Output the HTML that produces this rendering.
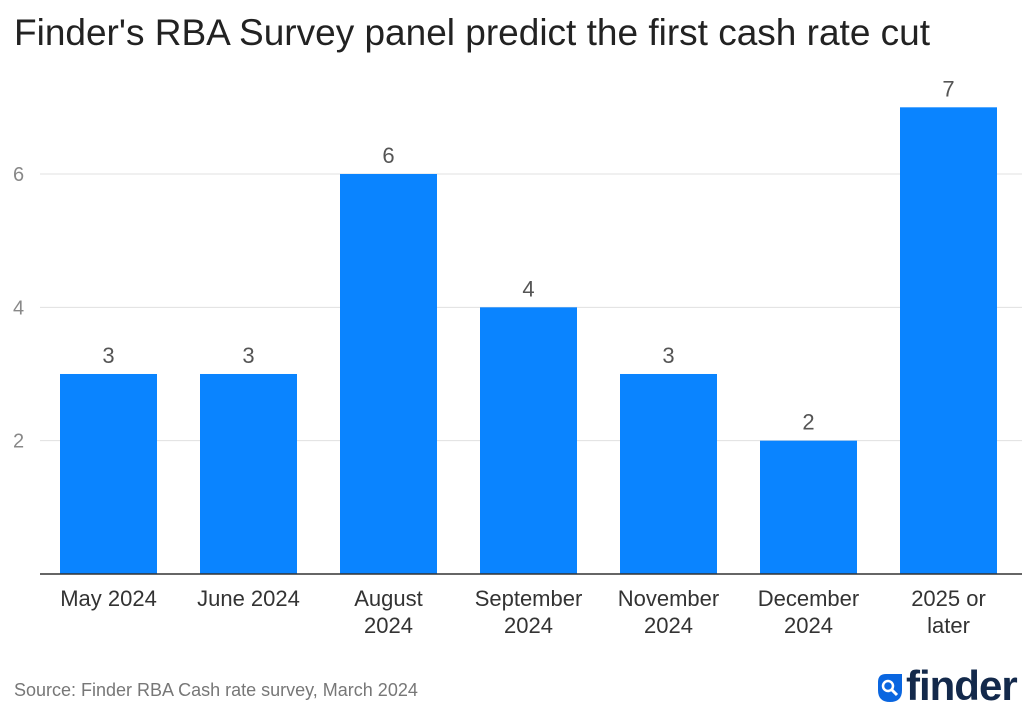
<!DOCTYPE html>
<html><head><meta charset="utf-8"><style>
body{margin:0;width:1027px;height:721px;background:#fff;font-family:"Liberation Sans",sans-serif;overflow:hidden;position:relative}
.title{position:absolute;left:14px;top:12px;font-size:37px;color:#222;white-space:nowrap;letter-spacing:0}
.src{position:absolute;left:14px;top:680px;font-size:18px;color:#777}
</style></head><body>
<div class="title">Finder's RBA Survey panel predict the first cash rate cut</div>
<svg id="chart" width="1027" height="660" style="position:absolute;left:0;top:0"></svg>
<div class="src">Source: Finder RBA Cash rate survey, March 2024</div>
<div style="position:absolute;left:876px;top:662px;width:150px;height:52px">
<svg width="30" height="40" style="position:absolute;left:0;top:10px">
<path d="M2 10 Q2 2 10 2 L26 2 L26 18 Q26 30 14 30 Q2 30 2 18 Z" fill="#0a66e0"/>
<circle cx="12" cy="14" r="5" fill="none" stroke="#fff" stroke-width="2.5"/>
<line x1="16" y1="18" x2="21" y2="23" stroke="#fff" stroke-width="3"/>
</svg>
<div style="position:absolute;left:30px;top:0;font-size:42px;font-weight:bold;color:#13294b;letter-spacing:-1px">finder</div>
</div>
<script>
const categories=[["May 2024"],["June 2024"],["August","2024"],["September","2024"],["November","2024"],["December","2024"],["2025 or","later"]];
const values=[3,3,6,4,3,2,7];
const yTicks=[2,4,6];
const svg=document.getElementById('chart');
const NS="http://www.w3.org/2000/svg";
const y0=574,unit=66.67,left=40,right=1022,step=140,bw=97,x0=60;
const y=v=>y0-v*unit;
const xb=i=>x0+i*step;
function mk(t,a){const e=document.createElementNS(NS,t);for(const k in a)e.setAttribute(k,a[k]);svg.appendChild(e);return e;}
yTicks.forEach(t=>{
 const l=mk('line',{x1:left,x2:right,y1:y(t),y2:y(t),stroke:'#e0e0e0','stroke-width':1});
 
 
 const tx=mk('text',{x:13,y:y(t)+7,'font-size':20,fill:'#888','font-family':'Liberation Sans'});
 tx.textContent=t;
 
 
});
values.forEach((v,i)=>{
 const r=mk('rect',{x:xb(i),y:y(v),width:bw,height:y0-y(v),fill:'#0a84ff'});
 
 
 const t=mk('text',{x:xb(i)+bw/2,y:y(v)-11,'font-size':22,fill:'#555','text-anchor':'middle','font-family':'Liberation Sans'});
 t.textContent=v;
 
 
 categories[i].forEach((s,j)=>{
  const c=mk('text',{x:xb(i)+bw/2,y:606+j*27,'font-size':22,fill:'#333','text-anchor':'middle','font-family':'Liberation Sans'});
  c.textContent=s;
  
  
 });
});
const ax=mk('line',{x1:left,x2:right,y1:y0,y2:y0,stroke:'#333','stroke-width':1.5});


</script>
</body></html>
